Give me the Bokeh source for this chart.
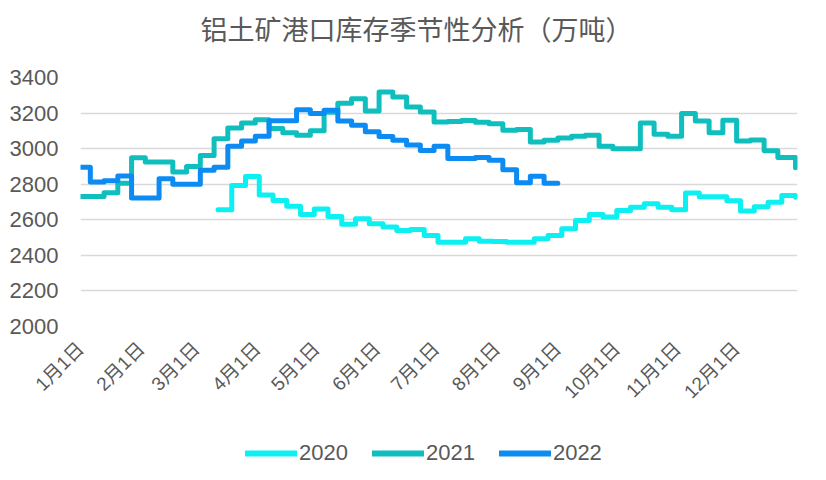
import math
from bokeh.plotting import figure
from bokeh.layouts import column
from bokeh.models import FixedTicker, Range1d, Legend, LegendItem, Label
from bokeh.embed import file_html
from bokeh.resources import INLINE

title_text = "铝土矿港口库存季节性分析（万吨）"

# x axis: day of year, tick labels at month starts
month_days = [0, 31, 59, 90, 120, 151, 181, 212, 243, 273, 304, 334]
month_labels = ["1月1日", "2月1日", "3月1日", "4月1日", "5月1日", "6月1日",
                "7月1日", "8月1日", "9月1日", "10月1日", "11月1日", "12月1日"]
y_ticks = [2000, 2200, 2400, 2600, 2800, 3000, 3200, 3400]

# weekly observation dates (day of year)
days_2020 = list(range(70, 365, 7))
days_2021 = [0] + list(range(5, 363, 7)) + [364]
days_2022 = [0] + list(range(5, 244, 7))

values_2020 = [2656, 2793, 2844, 2740, 2708, 2676, 2630, 2660, 2619, 2575,
               2606, 2578, 2559, 2540, 2546, 2512, 2474, 2474, 2493, 2480,
               2478, 2474, 2474, 2493, 2512, 2549, 2596, 2630, 2615, 2652,
               2671, 2690, 2671, 2656, 2750, 2729, 2729, 2707, 2650, 2673,
               2699, 2737, 2727]

values_2021 = [2731, 2731, 2752, 2806, 2949, 2925, 2925, 2868, 2900, 2962,
               3056, 3116, 3144, 3163, 3113, 3090, 3075, 3100, 3205, 3255,
               3280, 3212, 3319, 3290, 3234, 3206, 3150, 3152, 3158, 3148,
               3140, 3103, 3108, 3037, 3047, 3060, 3069, 3075, 3013, 3000,
               3000, 3144, 3081, 3069, 3197, 3156, 3090, 3160, 3043, 3048,
               2988, 2950, 2950, 2893]

values_2022 = [2895, 2812, 2820, 2846, 2722, 2722, 2831, 2800, 2800, 2878,
               2896, 3013, 3043, 3069, 3157, 3157, 3218, 3198, 3216, 3156,
               3131, 3095, 3068, 3047, 3020, 2990, 3013, 2945, 2945, 2950,
               2935, 2882, 2808, 2845, 2805, 2805]

series_names = ["2020", "2021", "2022"]
series_colors = ["#0CF0F2", "#10BEBE", "#0C8CF2"]
series = [(days_2020, values_2020), (days_2021, values_2021), (days_2022, values_2022)]

TEXT = "#595959"
LATIN = "'Liberation Sans', 'Noto Sans CJK SC', sans-serif"
LINE_W = 5


def strip(height):
    f = figure(width=826, height=height, output_backend="svg", toolbar_location=None,
               x_range=Range1d(0, 1), y_range=Range1d(0, 1),
               x_axis_type=None, y_axis_type=None,
               min_border_left=80, min_border_right=29, min_border_top=0,
               min_border_bottom=0, background_fill_color="white",
               border_fill_color="white")
    f.outline_line_color = None
    f.xgrid.grid_line_color = None
    f.ygrid.grid_line_color = None
    return f


# ---------------- title strip ----------------
tt = strip(50)
tt.add_layout(Label(x=336, y=22, x_units="screen", y_units="screen", text=title_text,
                    text_align="center", text_baseline="middle",
                    text_font="Noto Sans CJK SC", text_font_size="27px",
                    text_color=TEXT))

# ---------------- main chart ----------------
p = figure(width=826, height=380, output_backend="svg", toolbar_location=None,
           x_range=Range1d(0, 365), y_range=Range1d(2000, 3400),
           min_border_left=80, min_border_right=29, min_border_top=27,
           min_border_bottom=104, background_fill_color="white",
           border_fill_color="white")
p.outline_line_color = None

p.xaxis.ticker = FixedTicker(ticks=month_days)
p.xaxis.major_label_overrides = {d: lab for d, lab in zip(month_days, month_labels)}
p.xaxis.major_label_orientation = math.pi / 4
p.xaxis.major_label_text_font = LATIN
p.xaxis.major_label_text_font_size = "19px"
p.xaxis.major_label_text_color = TEXT
p.xaxis.major_label_standoff = 13
p.xaxis.axis_line_color = None
p.xaxis.major_tick_line_color = None
p.xaxis.minor_tick_line_color = None

p.yaxis.ticker = FixedTicker(ticks=y_ticks)
p.yaxis.major_label_text_font = LATIN
p.yaxis.major_label_text_font_size = "22px"
p.yaxis.major_label_text_color = TEXT
p.yaxis.major_label_standoff = 16
p.yaxis.axis_line_color = None
p.yaxis.major_tick_line_color = None
p.yaxis.minor_tick_line_color = None

p.xgrid.grid_line_color = None
p.ygrid.grid_line_color = "#D9D9D9"
p.ygrid.grid_line_width = 1.4

for (days, vals), color in zip(series, series_colors):
    p.step(days, vals, mode="after", line_color=color, line_width=LINE_W,
           line_join="round", line_cap="round")

# ---------------- legend strip ----------------
lg = strip(50)
items = []
for name, (days, vals), color in zip(series_names, series, series_colors):
    # same series, drawn outside this strip's view; used only for the legend keys
    r = lg.step(days, vals, mode="after", line_color=color, line_width=LINE_W + 1,
                line_cap="round")
    items.append(LegendItem(label=name, renderers=[r]))

legend = Legend(items=items, orientation="horizontal", location=(165, 14),
                glyph_width=52, glyph_height=22, label_height=22,
                label_text_font=LATIN, label_text_font_size="22px",
                label_text_color=TEXT, label_standoff=2, spacing=24,
                padding=0, margin=0, border_line_color=None,
                background_fill_alpha=0)
lg.add_layout(legend, "center")

open("out.html", "w").write(file_html(column(tt, p, lg, spacing=0), INLINE))
